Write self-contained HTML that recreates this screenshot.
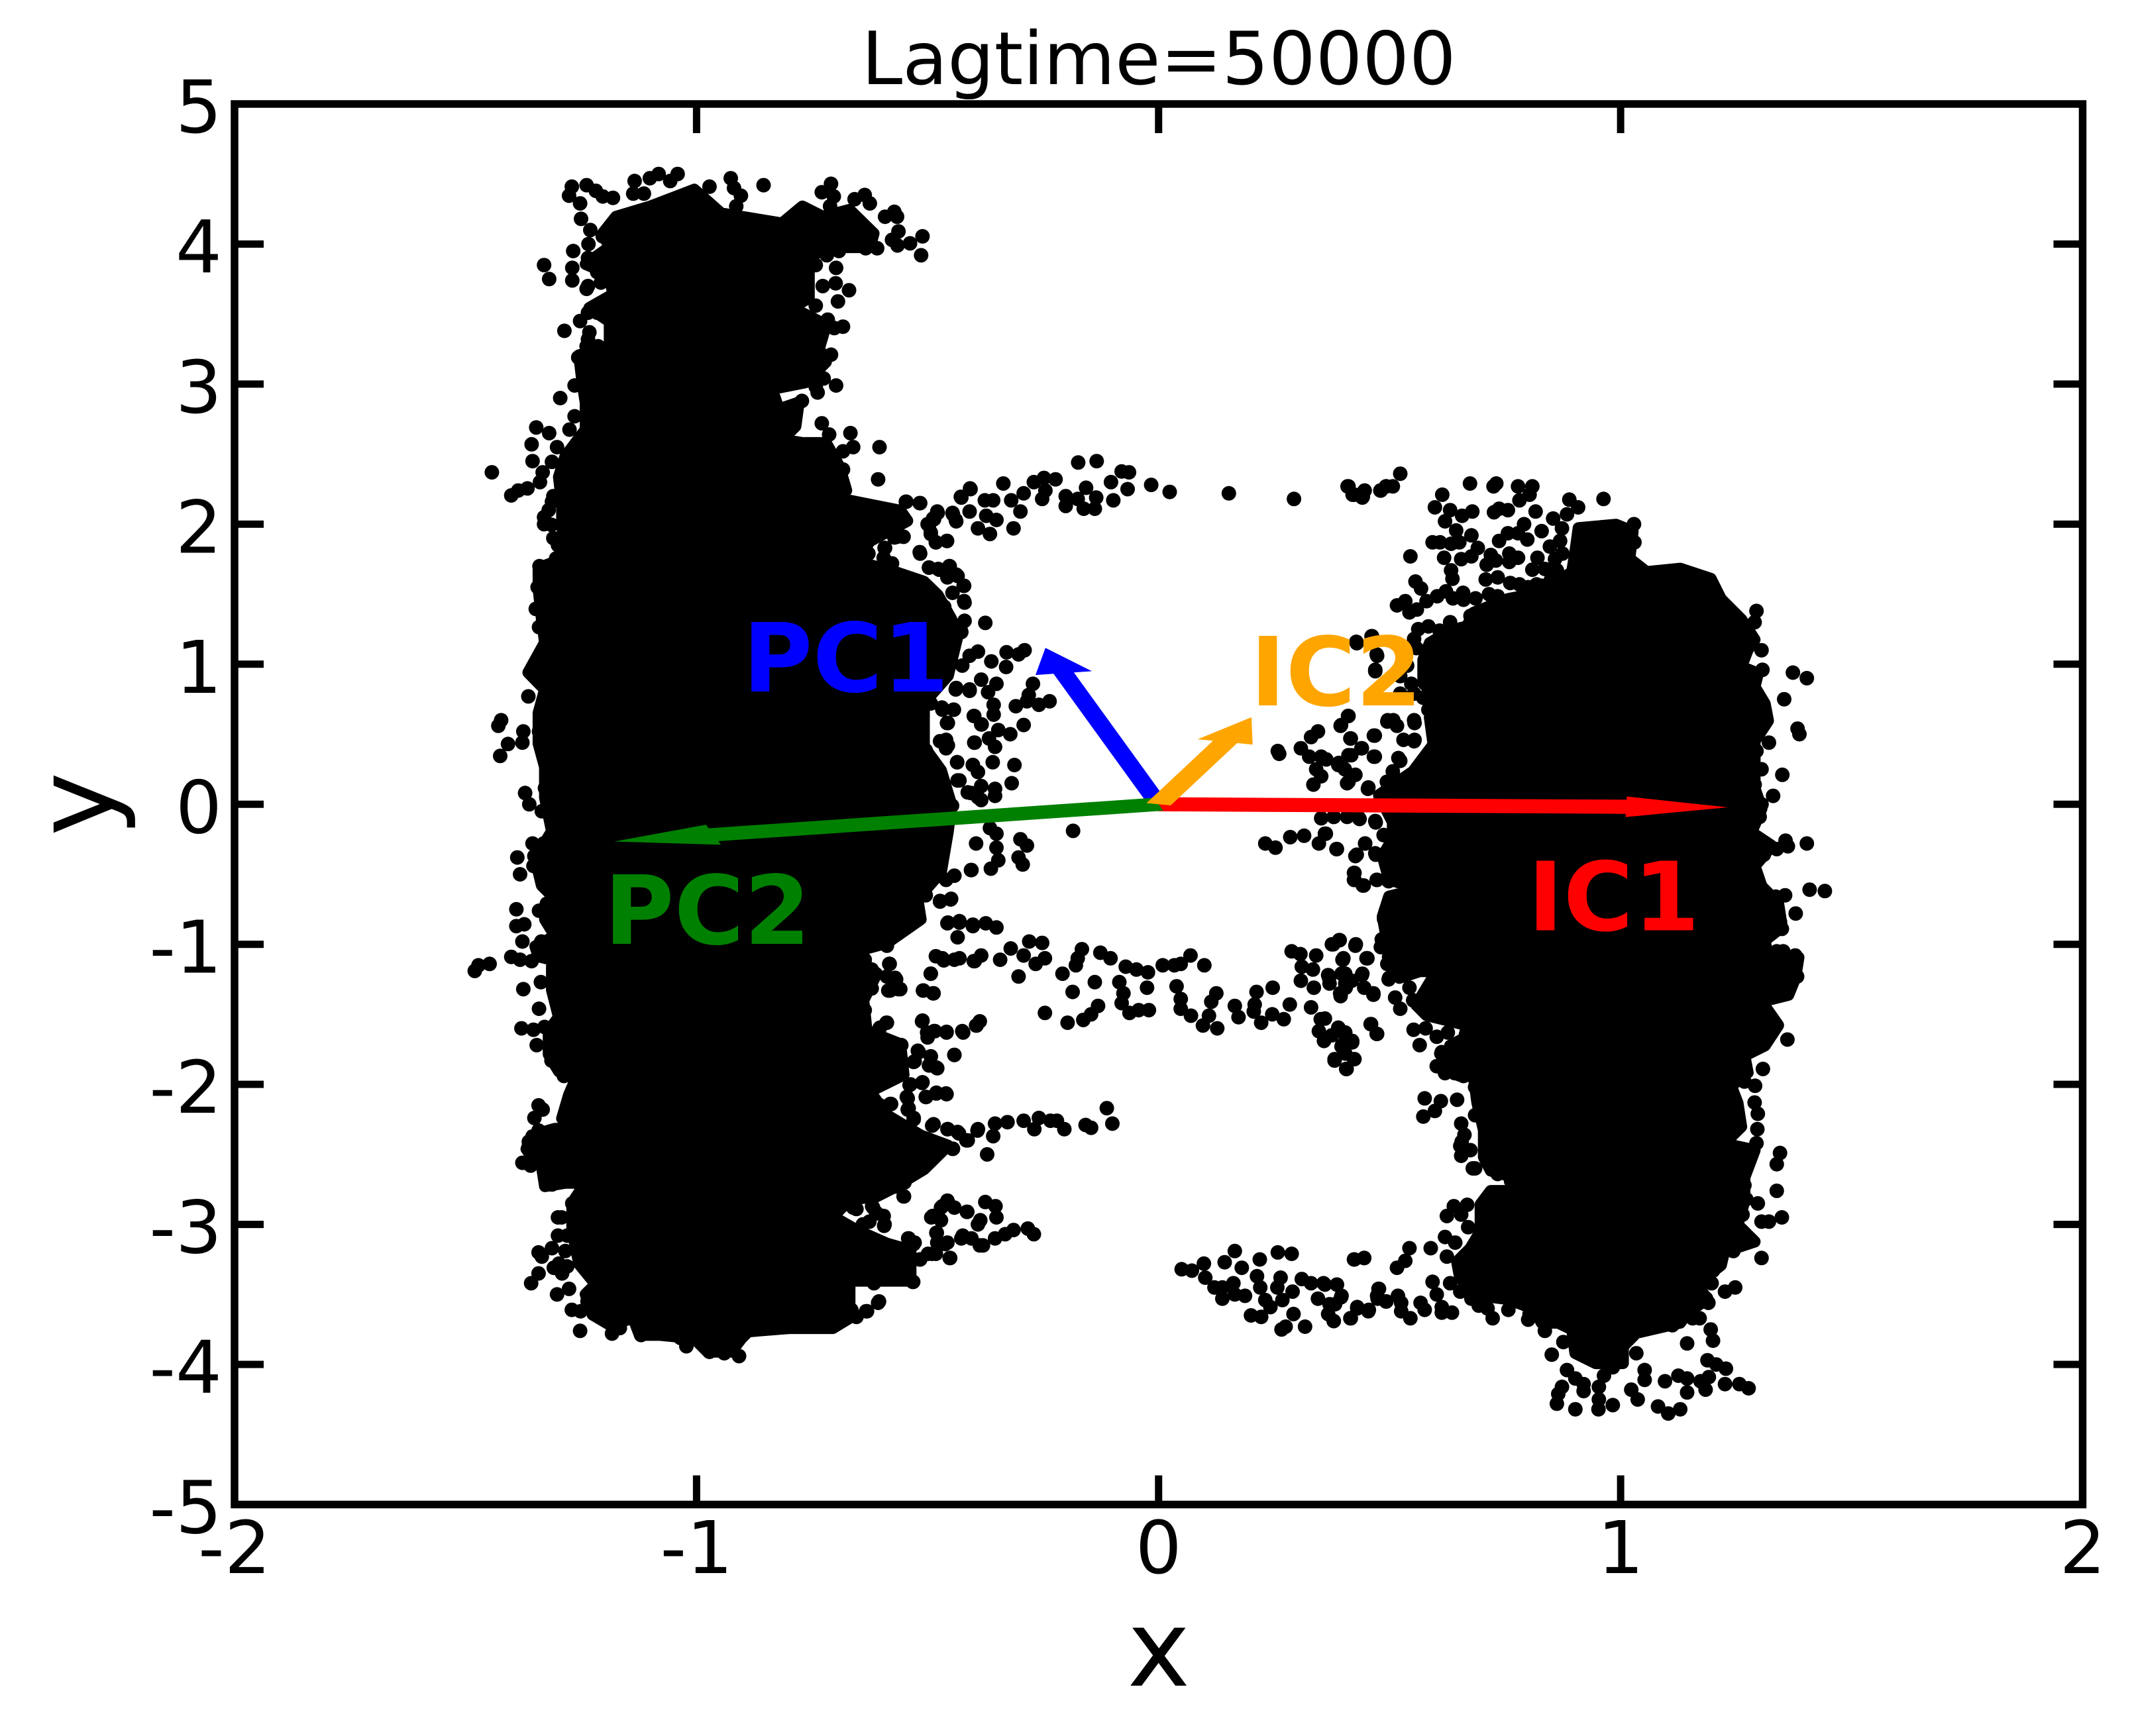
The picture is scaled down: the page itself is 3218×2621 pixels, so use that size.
<!DOCTYPE html>
<html lang="en">
<head>
<meta charset="utf-8">
<title>Lagtime=50000</title>
<style>
html,body{margin:0;padding:0;background:#fff;width:3218px;height:2621px;overflow:hidden}
svg{display:block}
text{font-family:"DejaVu Sans",sans-serif;fill:#000}
.big{font-weight:bold;font-size:144px}
</style>
</head>
<body>
<svg id="chart" xmlns="http://www.w3.org/2000/svg" width="3218" height="2621" viewBox="0 0 3218 2621">
<rect x="0" y="0" width="3218" height="2621" fill="#fff"/>
<g id="clusters"></g>
<g id="points"></g>
<g id="ticks"></g>
<rect x="354" y="157" width="2789.5" height="2114.5" fill="none" stroke="#000" stroke-width="11.5"/>
<g id="tick-labels" font-size="110"></g>
<g id="arrows"></g>
<text class="big" x="1121" y="1044" style="fill:#0000ff">PC1</text>
<text class="big" x="912" y="1425" style="fill:#008000">PC2</text>
<text class="big" x="2306" y="1404.5" style="fill:#ff0000">IC1</text>
<text class="big" x="1887" y="1065" style="fill:#ffa500">IC2</text>
<text x="1749" y="127" font-size="111" text-anchor="middle">Lagtime=50000</text>
<text x="1749" y="2545" font-size="160" text-anchor="middle">x</text>
<text x="0" y="0" font-size="163" text-anchor="middle" transform="translate(170 1214) rotate(-90)">y</text>
</svg>
<script>
const xTickValues = [-2, -1, 0, 1, 2];
const yTickValues = [-5, -4, -3, -2, -1, 0, 1, 2, 3, 4, 5];
const xTickLabels = ["-2", "-1", "0", "1", "2"];
const yTickLabels = ["-5", "-4", "-3", "-2", "-1", "0", "1", "2", "3", "4", "5"];

const arrowNames = ["pc1-arrow", "ic1-arrow", "pc2-arrow", "ic2-arrow"];
const arrowColors = ["#0000ff", "#ff0000", "#008000", "#ffa500"];
const arrowTipX = [-0.245, 1.232, -1.178, 0.201];
const arrowTipY = [1.117, -0.022, -0.266, 0.621];
const arrowShaftWidth = [0.045, 0.101, 0.095, 0.055];
const arrowHeadWidth = [0.125, 0.147, 0.147, 0.125];
const arrowHeadLength = [0.185, 0.22, 0.22, 0.185];

const leftCoreOutline = [[-1.1,4.268],[-1.005,4.388],[-0.947,4.219],[-0.903,4.195],[-0.815,4.147],[-0.771,4.268],[-0.727,4.195],[-0.669,4.244],[-0.617,4.075],[-0.625,3.978],[-0.727,3.978],[-0.757,3.882],[-0.757,3.616],[-0.793,3.544],[-0.72,3.423],[-0.735,3.254],[-0.72,3.158],[-0.764,3.013],[-0.837,2.965],[-0.822,2.82],[-0.779,2.868],[-0.786,2.699],[-0.815,2.603],[-0.771,2.579],[-0.72,2.579],[-0.691,2.41],[-0.676,2.241],[-0.735,2.144],[-0.669,2.168],[-0.559,2.096],[-0.544,2.024],[-0.625,1.879],[-0.654,1.734],[-0.574,1.662],[-0.508,1.589],[-0.478,1.493],[-0.449,1.324],[-0.435,1.203],[-0.456,0.918],[-0.508,0.724],[-0.508,0.41],[-0.471,0.241],[-0.449,0],[-0.456,-0.193],[-0.471,-0.483],[-0.522,-0.676],[-0.515,-0.821],[-0.588,-0.99],[-0.669,-1.062],[-0.61,-1.207],[-0.639,-1.4],[-0.632,-1.617],[-0.559,-1.713],[-0.552,-1.931],[-0.625,-2.051],[-0.588,-2.22],[-0.515,-2.365],[-0.456,-2.437],[-0.508,-2.606],[-0.581,-2.751],[-0.61,-2.799],[-0.669,-2.823],[-0.705,-2.944],[-0.654,-3.041],[-0.588,-3.137],[-0.537,-3.185],[-0.537,-3.402],[-0.596,-3.402],[-0.669,-3.402],[-0.669,-3.668],[-0.705,-3.74],[-0.8,-3.74],[-0.888,-3.764],[-0.903,-3.813],[-0.925,-3.909],[-0.976,-3.909],[-1.005,-3.813],[-1.079,-3.789],[-1.123,-3.789],[-1.137,-3.668],[-1.188,-3.716],[-1.225,-3.644],[-1.24,-3.499],[-1.218,-3.427],[-1.254,-3.282],[-1.269,-3.041],[-1.269,-2.847],[-1.24,-2.703],[-1.284,-2.703],[-1.328,-2.727],[-1.335,-2.582],[-1.368,-2.461],[-1.357,-2.365],[-1.306,-2.317],[-1.262,-2.317],[-1.291,-2.244],[-1.276,-2.075],[-1.254,-1.906],[-1.298,-1.906],[-1.32,-1.786],[-1.32,-1.617],[-1.298,-1.52],[-1.313,-1.327],[-1.313,-1.11],[-1.342,-1.086],[-1.349,-1.014],[-1.306,-0.941],[-1.328,-0.821],[-1.291,-0.724],[-1.335,-0.579],[-1.349,-0.386],[-1.313,-0.193],[-1.328,0.048],[-1.328,0.265],[-1.342,0.434],[-1.342,0.651],[-1.328,0.82],[-1.364,0.941],[-1.328,1.155],[-1.335,1.324],[-1.342,1.541],[-1.342,1.686],[-1.284,1.758],[-1.291,2],[-1.291,2.144],[-1.298,2.337],[-1.284,2.482],[-1.24,2.675],[-1.24,2.868],[-1.247,3.013],[-1.254,3.206],[-1.188,3.254],[-1.188,3.447],[-1.232,3.544],[-1.181,3.64],[-1.188,3.785],[-1.24,3.857],[-1.188,3.978],[-1.203,4.075],[-1.174,4.195]];

const rightCoreOutline = [[0.909,1.972],[0.99,1.996],[1.026,1.947],[1.019,1.754],[1.056,1.658],[1.129,1.682],[1.195,1.61],[1.217,1.465],[1.261,1.32],[1.29,1.175],[1.275,1.103],[1.261,0.982],[1.297,0.934],[1.29,0.838],[1.312,0.717],[1.319,0.596],[1.29,0.451],[1.29,0.234],[1.29,0.114],[1.305,-0.031],[1.283,-0.2],[1.327,-0.297],[1.29,-0.441],[1.305,-0.586],[1.341,-0.707],[1.349,-0.876],[1.312,-0.972],[1.319,-1.093],[1.385,-1.093],[1.378,-1.24],[1.363,-1.361],[1.305,-1.409],[1.341,-1.578],[1.312,-1.723],[1.268,-1.795],[1.275,-1.916],[1.239,-2.013],[1.253,-2.133],[1.261,-2.302],[1.224,-2.423],[1.29,-2.471],[1.268,-2.664],[1.268,-2.833],[1.253,-3.002],[1.29,-3.123],[1.224,-3.195],[1.217,-3.291],[1.188,-3.364],[1.165,-3.436],[1.188,-3.533],[1.144,-3.629],[1.129,-3.702],[1.034,-3.774],[1.005,-3.871],[1.005,-3.991],[0.946,-3.991],[0.902,-3.919],[0.895,-3.75],[0.865,-3.702],[0.829,-3.702],[0.814,-3.605],[0.756,-3.533],[0.697,-3.509],[0.653,-3.388],[0.646,-3.267],[0.675,-3.171],[0.697,-3.05],[0.697,-2.857],[0.719,-2.761],[0.77,-2.761],[0.77,-2.664],[0.719,-2.616],[0.704,-2.519],[0.704,-2.326],[0.69,-2.133],[0.682,-1.94],[0.653,-1.94],[0.617,-1.892],[0.631,-1.723],[0.66,-1.675],[0.668,-1.578],[0.58,-1.506],[0.558,-1.433],[0.58,-1.313],[0.602,-1.192],[0.565,-1.192],[0.521,-1.24],[0.499,-1.023],[0.492,-0.927],[0.485,-0.803],[0.499,-0.659],[0.529,-0.634],[0.573,-0.61],[0.499,-0.538],[0.485,-0.369],[0.507,-0.248],[0.507,-0.128],[0.477,0.065],[0.551,0.234],[0.595,0.427],[0.587,0.62],[0.595,0.789],[0.573,0.862],[0.573,1.031],[0.587,1.151],[0.624,1.224],[0.668,1.272],[0.682,1.368],[0.756,1.465],[0.829,1.513],[0.895,1.658],[0.902,1.803]];

const leftUpperFringe = [[-1.27,4.41],[-1.276,4.345],[-1.238,4.42],[-1.252,4.29],[-1.218,4.38],[-1.203,4.34],[-1.181,4.33],[-1.134,4.45],[-1.137,4.36],[-1.114,4.36],[-1.101,4.47],[-1.082,4.5],[-1.041,4.5],[-1.057,4.45],[-0.972,4.41],[-0.926,4.47],[-0.919,4.4],[-0.904,4.345],[-0.914,4.27],[-0.855,4.42],[-0.709,4.43],[-0.729,4.37],[-0.703,4.34],[-0.711,4.27],[-0.636,4.35],[-0.658,4.32],[-0.625,4.29],[-0.572,4.23],[-0.566,4.195],[-0.592,4.195],[-0.563,4.09],[-0.511,4.055],[-0.538,4.005],[-0.565,3.99],[-0.577,4.03],[-0.514,3.92],[-0.609,3.97],[-0.634,3.97],[-0.692,3.95],[-0.718,3.92],[-0.698,3.83],[-0.699,3.72],[-0.67,3.67],[-0.694,3.59],[-1.267,3.95],[-1.234,4],[-1.269,3.83],[-1.269,3.74],[-1.33,3.85],[-1.319,3.75],[-1.238,3.68],[-1.207,3.725],[-1.203,4.055],[-0.738,2.94],[-0.698,2.99],[-0.725,3.04],[-0.683,3.41],[-0.702,3.4],[-0.716,3.46],[-0.709,3.21],[-0.729,2.72],[-0.667,2.65],[-0.661,2.55],[-0.683,2.52],[-0.604,2.55],[-0.607,2.32],[-1.252,3.45],[-1.232,3.37],[-1.286,3.38],[-1.238,3.27],[-1.213,3.27],[-1.256,3.19],[-1.264,2.99],[-1.295,2.9],[-1.264,2.77],[-1.275,2.675],[-1.347,2.69],[-1.319,2.65],[-1.357,2.57],[-1.355,2.45],[-1.313,2.445],[-1.302,2.55],[-1.443,2.37],[-1.333,2.37],[-1.339,2.3],[-1.366,2.255],[-1.386,2.24],[-1.401,2.205],[-1.313,2.16],[-1.33,2.05],[-1.314,1.995],[-1.3,1.85],[-1.304,1.755],[-1.34,1.7],[-1.344,1.55],[-1.348,1.395],[-1.341,1.265],[-0.546,2.16],[-0.516,2.15],[-0.478,2.08],[-0.486,2.035],[-0.407,2.25],[-0.427,2.19],[-0.445,2.07],[-0.438,2.02],[-0.5,2],[-0.493,1.93],[-0.482,1.87],[-0.458,1.88],[-0.516,1.79],[-0.593,1.83],[-0.628,1.79],[-0.577,1.72],[-0.497,1.69],[-0.475,1.675],[-0.453,1.7],[-0.438,1.64],[-0.421,1.56],[-0.42,1.44],[-0.464,1.41],[-0.427,1.23]];

const leftMiddleFringe = [[-0.438,0.83],[-0.409,0.81],[-0.493,0.72],[-0.469,0.69],[-0.443,0.675],[-0.456,0.58],[-0.399,0.63],[-0.383,0.57],[-0.473,0.45],[-0.456,0.42],[-0.398,0.44],[-0.504,0.385],[-0.436,0.3],[-0.402,0.28],[-0.435,0.17],[-0.413,0.085],[-0.391,0.05],[-1.364,0.77],[-1.423,0.6],[-1.429,0.56],[-1.375,0.52],[-1.408,0.43],[-1.377,0.44],[-1.425,0.345],[-1.341,0.52],[-1.328,0.77],[-1.335,0.42],[-1.371,0.08],[-1.362,0],[-1.335,-0.05],[-1.328,0.115],[-1.355,-0.28],[-1.331,-0.28],[-1.388,-0.38],[-1.351,-0.37],[-1.382,-0.5],[-1.353,-0.44],[-1.316,-0.38],[-1.39,-0.75],[-1.341,-0.76],[-1.324,-0.71],[-1.39,-0.87],[-1.373,-0.857],[-1.377,-0.98],[-1.336,-0.98],[-1.401,-1.09],[-1.382,-1.11],[-1.357,-1.12],[-1.448,-1.14],[-1.472,-1.15],[-1.48,-1.19],[-1.337,-1.27],[-1.375,-1.32],[-1.341,-1.46],[-1.379,-1.6],[-1.353,-1.61],[-1.329,-1.59],[-1.346,-1.72],[-1.314,-1.83],[-1.287,-1.94],[-1.342,-2.15],[-1.333,-2.18],[-1.351,-2.24],[-1.342,-2.33],[-1.363,-2.41],[-1.363,-2.47],[-1.377,-2.56],[-1.359,-2.58],[-1.328,-2.64],[-1.313,-2.715],[-0.405,-0.47],[-0.473,-0.695],[-0.449,-0.675],[-0.544,-0.77],[-0.52,-0.8],[-0.588,-1.01],[-0.456,-0.845],[-0.431,-0.845],[-0.402,-0.87],[-0.482,-1.085],[-0.435,-0.95],[-0.398,-1.12],[-0.442,-1.11],[-0.465,-1.115],[-0.582,-1.14],[-0.493,-1.21],[-0.636,-1.11],[-0.621,-1.18],[-0.588,-1.23],[-0.568,-1.25],[-0.563,-1.32],[-0.585,-1.33],[-0.509,-1.33],[-0.487,-1.35],[-0.621,-1.315],[-0.636,-1.47],[-0.588,-1.56],[-0.604,-1.6],[-0.511,-1.545],[-0.5,-1.665],[-0.484,-1.62],[-0.459,-1.625],[-0.423,-1.63],[-0.394,-1.58],[-0.442,-1.79],[-0.519,-1.77],[-0.557,-1.72],[-0.493,-1.8],[-0.497,-1.865],[-0.481,-1.88],[-0.528,-1.835],[-0.511,-1.985],[-0.537,-2],[-0.543,-2.1],[-0.503,-2.09],[-0.481,-2.06],[-0.459,-2.07],[-0.581,-2.14],[-0.603,-2.15],[-0.628,-2.12],[-0.543,-2.18],[-0.53,-2.24],[-0.487,-2.285],[-0.456,-2.32],[-0.432,-2.35],[-0.416,-2.4],[-0.392,-2.33],[-0.445,-2.46],[-0.552,-2.69],[-0.574,-2.73]];

const leftLowerFringe = [[-1.342,-3.2],[-1.335,-3.23],[-1.313,-3.17],[-1.342,-3.35],[-1.358,-3.42],[-1.302,-3.5],[-1.276,-3.46],[-1.291,-3.35],[-1.309,-3.31],[-1.298,-3.28],[-1.27,-3.61],[-1.251,-3.62],[-1.223,-3.63],[-1.236,-3.55],[-1.181,-3.52],[-1.252,-3.76],[-1.183,-3.78],[-1.166,-3.74],[-1.12,-3.79],[-1.123,-3.73],[-1.08,-3.76],[-1.035,-3.81],[-1.022,-3.87],[-0.972,-3.91],[-0.94,-3.92],[-0.908,-3.94],[-0.91,-3.8],[-0.994,-3.78],[-1.181,-3.67],[-1.152,-3.62],[-1.292,-2.95],[-1.269,-2.85],[-1.3,-3.08],[-1.28,-3.08],[-1.284,-3.19],[-0.704,-2.94],[-0.626,-2.98],[-0.593,-3],[-0.61,-2.92],[-0.618,-2.88],[-0.661,-2.88],[-0.552,-2.8],[-0.55,-2.7],[-0.572,-2.73],[-0.618,-3.41],[-0.605,-3.55],[-0.631,-3.62],[-0.654,-3.66],[-0.665,-3.61],[-0.672,-3.47],[-0.531,-3.41],[-0.555,-3.39],[-0.588,-3.38],[-0.623,-3.19],[-0.542,-3.1],[-0.528,-3.13],[-0.516,-3.25],[-0.499,-3.21],[-0.482,-3.21],[-0.462,-3.14],[-0.451,-3.24],[-0.481,-3.06],[-0.456,-2.84],[-0.471,-2.88],[-0.489,-2.94],[-0.442,-2.88],[-0.415,-2.91],[-0.427,-3.1],[-0.405,-3.1],[-0.387,-3.15],[-0.391,-3]];

const lowerLeftBridge = [[-0.457,-0.85],[-0.431,-0.835],[-0.402,-0.86],[-0.374,-0.85],[-0.351,-0.88],[-0.32,-1.03],[-0.28,-0.98],[-0.252,-0.99],[-0.292,-1.08],[-0.343,-1.11],[-0.266,-1.14],[-0.246,-1.1],[-0.303,-1.23],[-0.384,-1.08],[-0.4,-1.12],[-0.431,-1.1],[-0.468,-1.1],[-0.493,-1.21],[-0.51,-1.33],[-0.488,-1.35],[-0.583,-1.14],[-0.57,-1.24],[-0.581,-1.33],[-0.559,-1.32],[-0.512,-1.55],[-0.501,-1.63],[-0.486,-1.62],[-0.459,-1.63],[-0.425,-1.62],[-0.395,-1.58],[-0.387,-1.55],[-0.589,-1.56],[-0.603,-1.595],[-0.557,-1.72],[-0.521,-1.76],[-0.493,-1.8],[-0.479,-1.885],[-0.442,-1.79],[-0.53,-1.84],[-0.512,-1.99],[-0.504,-2.09],[-0.481,-2.065],[-0.46,-2.065],[-0.545,-2.09],[-0.539,-2.005],[-0.579,-2.14],[-0.541,-2.17],[-0.53,-2.25],[-0.49,-2.295],[-0.457,-2.32],[-0.435,-2.34],[-0.391,-2.32],[-0.358,-2.37],[-0.413,-2.4],[-0.446,-2.46],[-0.371,-2.5],[-0.354,-2.28],[-0.327,-2.27],[-0.292,-2.26],[-0.259,-2.24],[-0.269,-2.32],[-0.234,-2.26],[-0.22,-2.26],[-0.204,-2.32],[-0.158,-2.29],[-0.146,-2.31],[-0.112,-2.17],[-0.1,-2.28],[-0.551,-2.69],[-0.572,-2.73],[-0.551,-2.8],[-0.594,-3.01],[-0.611,-2.92],[-0.62,-2.87],[-0.457,-2.83],[-0.468,-2.87],[-0.492,-2.95],[-0.471,-2.97],[-0.414,-2.91],[-0.375,-2.84],[-0.353,-2.87],[-0.351,-2.95],[-0.386,-2.97],[-0.424,-3.08],[-0.48,-3.06],[-0.479,-3.13],[-0.457,-3.13],[-0.452,-3.24],[-0.517,-3.25],[-0.49,-3.21],[-0.354,-3.1],[-0.38,-3.15],[-0.332,-3.07],[-0.314,-3.04],[-0.283,-3.03],[-0.27,-3.07],[-0.541,-3.1],[-0.53,-3.14],[-0.607,-3.56],[-0.633,-3.62],[-0.616,-3.42],[-0.532,-3.41],[-0.556,-3.38],[-0.589,-3.37],[-0.585,-3.2]];

const lowerMiddleBridge = [[-0.208,-1.21],[-0.166,-1.035],[-0.179,-1.15],[-0.175,-1.1],[-0.126,-1.06],[-0.104,-1.1],[-0.186,-1.34],[-0.138,-1.27],[-0.085,-1.27],[-0.071,-1.16],[-0.048,-1.18],[-0.023,-1.2],[-0.025,-1.31],[-0.076,-1.35],[-0.08,-1.42],[-0.063,-1.49],[-0.043,-1.47],[-0.021,-1.47],[0.009,-1.15],[0.034,-1.15],[0.048,-1.14],[0.069,-1.08],[0.099,-1.15],[0.039,-1.3],[0.048,-1.39],[0.048,-1.46],[0.07,-1.51],[0.096,-1.58],[0.127,-1.6],[0.109,-1.51],[0.114,-1.41],[0.125,-1.35],[0.165,-1.44],[0.173,-1.52],[0.212,-1.34],[0.208,-1.43],[0.206,-1.48],[0.222,-1.56],[0.246,-1.5],[0.271,-1.535],[0.284,-1.43],[0.247,-1.31],[-0.246,-1.49],[-0.197,-1.56],[-0.163,-1.54],[-0.146,-1.5],[-0.131,-1.44],[0.288,-1.05],[0.307,-1.07],[0.341,-1.08],[0.31,-1.16],[0.334,-1.18],[0.308,-1.26],[0.336,-1.31],[0.367,-1.22],[0.4,-1.1],[0.396,-1.21],[0.37,-1.28],[0.418,-1.26],[0.44,-1.22],[0.452,-1.1],[0.378,-1],[0.392,-0.97],[0.427,-1],[0.405,-1.31],[0.394,-1.37],[0.465,-1.35],[0.498,-1.25],[0.33,-1.45],[0.351,-1.535],[0.347,-1.62],[0.358,-1.69],[0.389,-1.595],[0.403,-1.64],[0.419,-1.69],[0.396,-1.73],[0.424,-1.82],[0.381,-1.82],[0.407,-1.89],[0.46,-1.57],[0.473,-1.64],[0.491,-0.81],[0.484,-0.97],[0.495,-1.14]];

const bottomRightBridge = [[0.05,-3.32],[0.072,-3.33],[0.098,-3.28],[0.101,-3.38],[0.121,-3.45],[0.138,-3.45],[0.138,-3.53],[0.143,-3.27],[0.165,-3.19],[0.219,-3.25],[0.258,-3.2],[0.288,-3.21],[0.18,-3.31],[0.162,-3.42],[0.165,-3.5],[0.187,-3.51],[0.213,-3.37],[0.22,-3.45],[0.231,-3.54],[0.242,-3.59],[0.2,-3.65],[0.222,-3.66],[0.264,-3.38],[0.257,-3.45],[0.29,-3.48],[0.268,-3.54],[0.31,-3.39],[0.33,-3.42],[0.357,-3.42],[0.386,-3.43],[0.345,-3.53],[0.37,-3.57],[0.396,-3.51],[0.367,-3.64],[0.379,-3.69],[0.416,-3.67],[0.43,-3.6],[0.455,-3.61],[0.292,-3.64],[0.317,-3.73],[0.266,-3.75],[0.275,-3.73],[0.424,-3.25],[0.445,-3.24],[0.476,-3.46],[0.473,-3.51],[0.493,-3.55]];

const upperBridge = [[-0.547,2.16],[-0.517,2.15],[-0.479,2.09],[-0.488,2.04],[-0.446,2.08],[-0.428,2.195],[-0.408,2.255],[-0.439,2.03],[-0.409,2.09],[-0.376,2.17],[-0.358,2.17],[-0.391,1.97],[-0.365,1.93],[-0.351,2.03],[-0.373,2.06],[-0.314,1.97],[-0.336,2.29],[-0.299,2.09],[-0.319,2.17],[-0.292,2.22],[-0.27,2.3],[-0.248,2.33],[-0.223,2.32],[-0.252,2.18],[-0.245,2.24],[-0.201,2.2],[-0.201,2.13],[-0.175,2.18],[-0.157,2.26],[-0.135,2.19],[-0.162,2.11],[-0.138,2.11],[-0.174,2.44],[-0.134,2.45],[-0.103,2.3],[-0.098,2.17],[-0.08,2.376],[-0.064,2.37],[-0.067,2.25],[-0.016,2.28],[0.024,2.23],[0.152,2.22],[0.293,2.18],[0.411,2.27],[0.424,2.21],[0.445,2.236],[0.442,2.195],[0.48,2.24],[0.493,2.27]];

const centerLeftFringe = [[-0.497,1.99],[-0.493,1.94],[-0.482,1.87],[-0.458,1.88],[-0.517,1.8],[-0.572,1.905],[-0.552,1.91],[-0.592,1.83],[-0.497,1.69],[-0.477,1.68],[-0.452,1.7],[-0.457,1.62],[-0.435,1.63],[-0.422,1.56],[-0.421,1.45],[-0.446,1.51],[-0.42,1.31],[-0.375,1.295],[-0.428,1.24],[-0.425,0.99],[-0.409,1.06],[-0.391,1.09],[-0.362,1.02],[-0.329,1.085],[-0.303,1.07],[-0.29,1.1],[-0.33,0.98],[-0.384,0.89],[-0.351,0.86],[-0.369,0.8],[-0.409,0.82],[-0.439,0.82],[-0.272,0.86],[-0.281,0.78],[-0.285,0.735],[-0.309,0.7],[-0.259,0.71],[-0.236,0.735],[-0.357,0.71],[-0.357,0.64],[-0.4,0.63],[-0.384,0.57],[-0.292,0.566],[-0.444,0.675],[-0.468,0.675],[-0.458,0.58],[-0.347,0.53],[-0.321,0.5],[-0.367,0.47],[-0.354,0.41],[-0.399,0.44],[-0.46,0.46],[-0.46,0.4],[-0.436,0.3],[-0.402,0.28],[-0.359,0.3],[-0.312,0.28],[-0.318,0.15],[-0.391,0.23],[-0.384,0.13],[-0.431,0.17],[-0.354,0.11],[-0.354,0.06],[-0.406,0.08],[-0.384,0.03],[-0.447,-0.01],[-0.468,0.07],[-0.185,-0.19],[-0.299,-0.25],[-0.285,-0.295],[-0.303,-0.38],[-0.294,-0.43],[-0.351,-0.21],[-0.351,-0.31],[-0.347,-0.4],[-0.363,-0.46],[-0.406,-0.47],[-0.395,-0.28],[-0.365,-0.17],[-0.442,-0.51],[-0.46,-0.54],[-0.504,-0.65],[-0.473,-0.69],[-0.45,-0.68]];

const centerRightFringe = [[0.258,0.38],[0.261,0.36],[0.308,0.4],[0.326,0.34],[0.345,0.52],[0.33,0.48],[0.352,0.34],[0.341,0.25],[0.352,0.2],[0.335,0.14],[0.363,0.32],[0.389,0.28],[0.411,0.35],[0.44,0.4],[0.403,0.25],[0.411,0.16],[0.454,0.12],[0.468,0.49],[0.468,0.34],[0.416,0.47],[0.394,0.56],[0.411,0.63],[0.495,0.59],[0.429,1.15],[0.462,1.2],[0.473,1.06],[0.469,0.96],[0.352,-0.1],[0.379,-0.09],[0.411,-0.08],[0.435,-0.105],[0.469,-0.12],[0.231,-0.28],[0.253,-0.31],[0.285,-0.235],[0.315,-0.225],[0.347,-0.28],[0.362,-0.21],[0.385,-0.32],[0.447,-0.28],[0.429,-0.36],[0.469,-0.35],[0.491,-0.35],[0.424,-0.49],[0.424,-0.54],[0.444,-0.58],[0.473,-0.54],[0.498,-0.54],[0.487,-0.22]];

const rightUpperFringe = [[0.409,2.27],[0.42,2.21],[0.441,2.19],[0.446,2.24],[0.481,2.24],[0.492,2.27],[0.507,2.27],[0.523,2.36],[0.614,2.21],[0.598,2.12],[0.631,2.1],[0.62,2.02],[0.657,2.06],[0.679,2.09],[0.644,1.955],[0.677,1.92],[0.674,2.29],[0.725,2.27],[0.731,2.29],[0.778,2.27],[0.809,2.27],[0.803,2.21],[0.781,2.17],[0.737,2.11],[0.726,2.085],[0.756,2.1],[0.816,2.09],[0.889,2.175],[0.908,2.12],[0.963,2.18],[1.029,2],[1.03,1.87],[0.854,2.04],[0.884,2.07],[0.873,1.97],[0.791,2],[0.756,1.935],[0.737,1.88],[0.778,1.935],[0.798,1.89],[0.829,1.95],[0.847,1.84],[0.869,1.88],[0.874,1.79],[0.858,1.75],[0.593,1.87],[0.609,1.87],[0.633,1.86],[0.651,1.87],[0.691,1.83],[0.677,1.77],[0.655,1.75],[0.618,1.76],[0.633,1.67],[0.636,1.61],[0.71,1.71],[0.719,1.78],[0.73,1.74],[0.759,1.79],[0.778,1.76],[0.759,1.73],[0.545,1.77],[0.82,1.76],[0.836,1.68],[0.809,1.675],[0.556,1.59],[0.568,1.54],[0.708,1.605],[0.734,1.62],[0.761,1.58],[0.781,1.57],[0.8,1.55],[0.829,1.56],[0.849,1.6],[0.516,1.42],[0.534,1.45],[0.543,1.37],[0.559,1.39],[0.58,1.45],[0.603,1.485],[0.622,1.52],[0.637,1.47],[0.659,1.51],[0.66,1.46],[0.686,1.47],[0.715,1.5],[0.734,1.485],[0.675,1.345],[0.712,1.37],[0.562,1.25],[0.584,1.27],[0.608,1.24],[0.631,1.3],[0.655,1.25],[0.428,1.16],[0.461,1.2],[0.469,0.95],[0.472,1.07],[0.523,0.915],[0.558,1.115],[0.547,0.86],[0.573,0.76],[0.584,0.675],[0.41,0.63],[0.395,0.565],[0.415,0.47],[0.466,0.49],[0.496,0.6],[0.516,0.56],[0.53,0.46],[0.554,0.46],[0.554,0.58],[0.439,0.4],[0.39,0.295],[0.417,0.35],[0.466,0.34],[0.519,0.33],[0.408,0.15],[0.453,0.11],[0.426,0.21],[0.507,0.235]];

const rightEdgeFringe = [[1.294,1.38],[1.29,1.3],[1.275,1.21],[1.305,1.1],[1.307,0.96],[1.373,0.94],[1.403,0.9],[1.354,0.75],[1.383,0.54],[1.387,0.5],[1.312,0.61],[1.321,0.44],[1.294,0.38],[1.305,0.25],[1.35,0.21],[1.29,0.14],[1.33,0.06],[1.275,0.04],[1.305,0],[1.301,-0.09],[1.357,-0.26],[1.362,-0.3],[1.403,-0.28],[1.338,-0.32],[1.31,-0.36],[1.409,-0.61],[1.442,-0.62],[1.356,-0.65],[1.336,-0.66],[1.379,-0.78],[1.345,-0.84],[1.349,-0.89],[1.338,-1.05],[1.378,-1.08],[1.382,-1.23],[1.352,-1.05],[1.361,-1.68],[1.308,-1.89],[1.291,-2.01],[1.268,-1.98],[1.29,-2.13],[1.297,-2.21],[1.296,-2.32],[1.294,-2.42],[1.345,-2.49],[1.338,-2.57],[1.338,-2.76],[1.349,-2.95],[1.321,-2.98],[1.305,-2.98],[1.297,-2.85],[1.305,-3.24],[1.268,-2.72],[1.272,-2.82],[1.264,-2.93],[1.275,-3.12],[1.242,-2.1],[1.239,-1.99],[1.261,-1.88]];

const rightLeftFringe = [[0.375,-1],[0.391,-0.97],[0.426,-1.01],[0.483,-0.965],[0.481,-1.02],[0.399,-1.11],[0.45,-1.1],[0.499,-1.09],[0.529,-1.17],[0.562,-1.17],[0.584,-1.17],[0.404,-1.21],[0.441,-1.21],[0.499,-1.24],[0.529,-1.21],[0.447,-0.28],[0.426,-0.37],[0.47,-0.36],[0.423,-0.49],[0.423,-0.54],[0.442,-0.58],[0.472,-0.54],[0.498,-0.55],[0.54,-0.56],[0.386,-0.32],[0.36,-0.21],[0.379,-0.09],[0.408,-0.09],[0.434,-0.1],[0.47,-0.13],[0.488,-0.22],[0.51,-0.68],[0.492,-0.76],[0.488,-0.82],[0.503,-0.9],[0.529,-0.66],[0.554,-0.68],[0.543,-0.9],[0.551,-1.02],[0.398,-1.11],[0.369,-1.24],[0.393,-1.35],[0.404,-1.28],[0.445,-1.31],[0.465,-1.36],[0.512,-1.38],[0.523,-1.46],[0.543,-1.31],[0.551,-1.4],[0.565,-1.18],[0.36,-1.53],[0.39,-1.6],[0.404,-1.63],[0.375,-1.65],[0.419,-1.7],[0.397,-1.72],[0.404,-1.78],[0.381,-1.83],[0.423,-1.82],[0.406,-1.89],[0.459,-1.57],[0.472,-1.64],[0.552,-1.61],[0.578,-1.6],[0.602,-1.66],[0.565,-1.72],[0.613,-1.77],[0.602,-1.87],[0.62,-1.92],[0.66,-1.94],[0.576,-2.1],[0.611,-2.12],[0.598,-2.19],[0.573,-2.23],[0.646,-2.11],[0.655,-2.28],[0.662,-2.36],[0.653,-2.44],[0.675,-2.47],[0.655,-2.51],[0.68,-2.6],[0.734,-2.64],[0.763,-2.69]];

const rightLowerFringe = [[0.668,-2.86],[0.639,-2.87],[0.655,-2.93],[0.624,-2.94],[0.67,-3.02],[0.708,-2.85],[0.704,-2.94],[0.445,-3.24],[0.423,-3.25],[0.543,-3.17],[0.534,-3.26],[0.516,-3.31],[0.589,-3.17],[0.62,-3.09],[0.642,-3.13],[0.624,-3.23],[0.593,-3.41],[0.602,-3.5],[0.631,-3.42],[0.653,-3.48],[0.677,-3.53],[0.693,-3.58],[0.69,-3.48],[0.723,-3.67],[0.712,-3.6],[0.757,-3.61],[0.803,-3.64],[0.836,-3.76],[0.835,-3.69],[0.477,-3.46],[0.474,-3.53],[0.492,-3.55],[0.518,-3.51],[0.525,-3.56],[0.525,-3.62],[0.545,-3.67],[0.567,-3.56],[0.576,-3.61],[0.613,-3.59],[0.613,-3.63],[0.635,-3.63],[0.36,-3.43],[0.386,-3.43],[0.395,-3.52],[0.382,-3.57],[0.415,-3.67],[0.43,-3.59],[0.454,-3.62],[0.379,-3.69],[0.876,-3.84],[0.851,-3.93],[0.884,-4.04],[0.902,-4.1],[0.92,-4.14],[0.92,-4.19],[0.873,-4.16],[0.865,-4.21],[0.862,-4.28],[0.902,-4.32],[0.952,-4.32],[0.953,-4.25],[0.983,-4.29],[0.953,-4.16],[0.964,-4.08],[0.983,-4.02],[1.034,-3.92],[1.052,-4.04],[1.052,-4.11],[1.023,-4.18],[1.037,-4.25],[1.081,-4.3],[1.103,-4.35],[1.129,-4.32],[1.144,-4.2],[1.096,-4.12],[1.125,-4.08],[1.144,-4.1],[1.173,-4.12],[1.184,-4.18],[1.191,-4.09],[1.188,-3.97],[1.207,-4],[1.228,-4.03],[1.226,-4.14],[1.257,-4.14],[1.277,-4.17],[1.144,-3.85],[1.2,-3.83],[1.195,-3.75],[1.171,-3.67],[1.19,-3.56],[1.197,-3.42],[1.226,-3.48],[1.248,-3.45]];

const leftEdgeFill = [[-0.742,3.85],[-0.727,3.7],[-0.742,3.56],[-0.713,3.41],[-0.742,3.27],[-0.772,3.12],[-0.742,2.98],[-0.801,2.83],[-0.772,2.88],[-0.816,2.73],[-0.713,2.64],[-0.742,2.54],[-0.683,2.39],[-0.78,3.98],[-0.72,4.05],[-0.66,4.1],[-1.235,3.9],[-1.215,3.8],[-1.235,3.7],[-1.215,3.51],[-1.235,3.51],[-1.235,3.32],[-1.215,3.12],[-1.235,3.12],[-1.235,2.93],[-1.215,2.73],[-1.25,4.18],[-1.23,4.1],[-1.31,2.2],[-1.32,2.1],[-1.33,2],[-1.31,1.9],[-0.566,1.91],[-0.595,1.76],[-0.624,1.95],[-0.624,-2.8],[-0.595,-2.94],[-0.654,-2.89],[-0.669,-3.04],[-0.64,-3],[-0.6,-3.3],[-0.65,-3.25],[-1.3,-2.95],[-1.28,-3.3]];

const rightEdgeFill = [[0.553,1.18],[0.538,0.99],[0.523,0.79],[0.508,0.6],[0.553,0.45],[0.523,0.31],[0.494,0.16],[0.553,0.79],[0.553,0.6],[0.479,0.02],[0.626,-1.34],[0.656,-1.49],[0.626,-1.63],[0.67,-1.78],[0.641,-1.92],[0.685,-2.02],[0.612,-1.78],[0.685,-2.22],[0.656,-2.41],[0.685,-2.6],[1.23,-2.99],[1.244,-3.19],[1.2,-3.33],[1.185,-3.53],[1.156,-3.67],[1.112,-3.72],[0.818,1.57],[0.862,1.67],[0.75,-3.5],[0.7,-3.4],[0.8,-3.68]];

const pointGroups = [leftUpperFringe, leftMiddleFringe, leftLowerFringe, lowerLeftBridge, lowerMiddleBridge, bottomRightBridge, upperBridge, centerLeftFringe, centerRightFringe, rightUpperFringe, rightEdgeFringe, rightLeftFringe, rightLowerFringe, leftEdgeFill, rightEdgeFill];
const coreOutlines = [leftCoreOutline, rightCoreOutline];

const SVG_NS = "http://www.w3.org/2000/svg";
const plotLeft = 354, plotRight = 3143.5, plotTop = 157, plotBottom = 2271.5;
const xMin = -2, xMax = 2, yMin = -5, yMax = 5;
function xScale(v) { return plotLeft + (v - xMin) / (xMax - xMin) * (plotRight - plotLeft); }
function yScale(v) { return plotBottom - (v - yMin) / (yMax - yMin) * (plotBottom - plotTop); }
function toPath(points) { return points.map(function (p) { return xScale(p[0]).toFixed(1) + "," + yScale(p[1]).toFixed(1); }).join(" "); }

const clusterLayer = document.getElementById("clusters");
coreOutlines.forEach(function (outline) {
  const el = document.createElementNS(SVG_NS, "polygon");
  
  
  el.setAttribute("points", toPath(outline));
  el.setAttribute("fill", "#000");
  el.setAttribute("stroke", "#000");
  el.setAttribute("stroke-width", "18");
  el.setAttribute("stroke-linejoin", "round");
  clusterLayer.appendChild(el);
});

const pointLayer = document.getElementById("points");
pointGroups.forEach(function (group) {
  group.forEach(function (p) {
    const el = document.createElementNS(SVG_NS, "circle");
    
    
    el.setAttribute("cx", xScale(p[0]).toFixed(1));
    el.setAttribute("cy", yScale(p[1]).toFixed(1));
    el.setAttribute("r", "11");
    el.setAttribute("fill", "#000");
    pointLayer.appendChild(el);
  });
});

const tickLayer = document.getElementById("ticks");
const labelLayer = document.getElementById("tick-labels");
const tickLength = 44;
function addTick(x1, y1, x2, y2) {
  const el = document.createElementNS(SVG_NS, "line");
  
  
  el.setAttribute("x1", x1);
  el.setAttribute("y1", y1);
  el.setAttribute("x2", x2);
  el.setAttribute("y2", y2);
  el.setAttribute("stroke", "#000");
  el.setAttribute("stroke-width", "11");
  tickLayer.appendChild(el);
}
xTickValues.forEach(function (v, i) {
  const x = xScale(v);
  addTick(x, plotBottom, x, plotBottom - tickLength);
  addTick(x, plotTop, x, plotTop + tickLength);
  const el = document.createElementNS(SVG_NS, "text");
  
  
  el.setAttribute("x", x);
  el.setAttribute("y", 2375);
  el.setAttribute("text-anchor", "middle");
  el.textContent = xTickLabels[i];
  labelLayer.appendChild(el);
});
yTickValues.forEach(function (v, i) {
  const y = yScale(v);
  addTick(plotLeft, y, plotLeft + tickLength, y);
  addTick(plotRight, y, plotRight - tickLength, y);
  const el = document.createElementNS(SVG_NS, "text");
  
  
  el.setAttribute("x", 335);
  el.setAttribute("y", y + 43);
  el.setAttribute("text-anchor", "end");
  el.textContent = yTickLabels[i];
  labelLayer.appendChild(el);
});

const arrowLayer = document.getElementById("arrows");
arrowNames.forEach(function (name, i) {
  const tx = arrowTipX[i], ty = arrowTipY[i];
  const len = Math.hypot(tx, ty);
  const ux = tx / len, uy = ty / len, nx = -uy, ny = ux;
  const bx = tx - ux * arrowHeadLength[i], by = ty - uy * arrowHeadLength[i];
  const sw = arrowShaftWidth[i] / 2, hw = arrowHeadWidth[i] / 2;
  const outline = [
    [nx * sw, ny * sw], [bx + nx * sw, by + ny * sw], [bx + nx * hw, by + ny * hw],
    [tx, ty],
    [bx - nx * hw, by - ny * hw], [bx - nx * sw, by - ny * sw], [-nx * sw, -ny * sw]
  ];
  const el = document.createElementNS(SVG_NS, "polygon");
  
  
  el.setAttribute("points", toPath(outline));
  el.setAttribute("fill", arrowColors[i]);
  arrowLayer.appendChild(el);
});
</script>
</body>
</html>
